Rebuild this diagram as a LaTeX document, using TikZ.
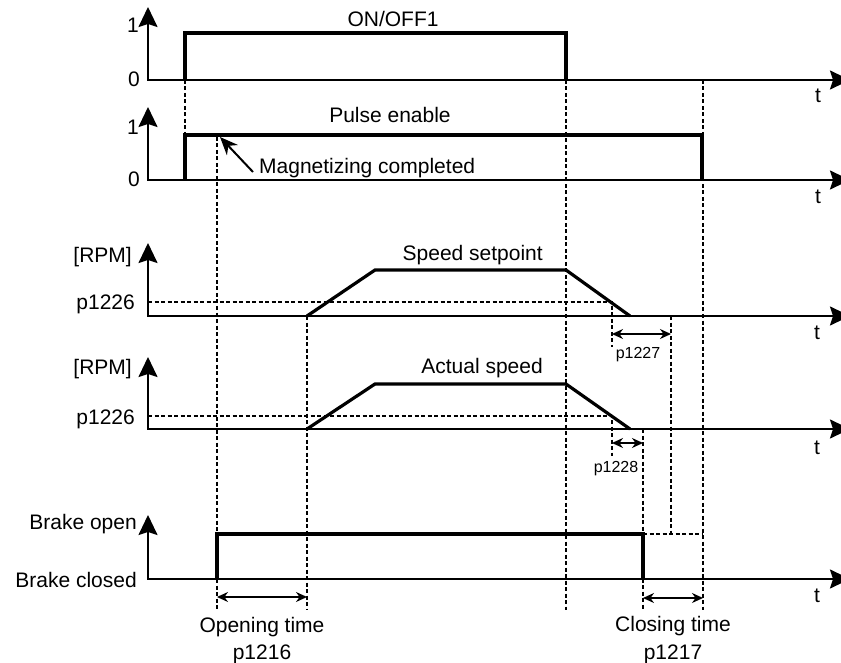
\documentclass[tikz,border=0pt]{standalone}
\usepackage{fontspec}
\setmainfont{Liberation Sans}
\usetikzlibrary{arrows.meta}
\begin{document}
\begin{tikzpicture}[x=1pt,y=-1pt,
  axis/.style={line width=2pt, line join=miter,
    {Stealth[length=20pt,width=19pt,inset=3pt]}-{Stealth[length=20pt,width=19pt,inset=3pt]}},
  sig/.style={line width=3.2pt, line join=miter},
  dsh/.style={line width=2.4pt, dash pattern=on 4pt off 2.5pt},
  dim/.style={line width=1.5pt, {Stealth[length=11pt,width=10pt]}-{Stealth[length=11pt,width=10pt]}},
  lbl/.style={inner sep=0pt, text height=15pt, text depth=0pt, font=\fontsize{21}{25}\selectfont},
  sml/.style={inner sep=0pt, text height=11.5pt, text depth=0pt, font=\fontsize{16}{19}\selectfont}]
\useasboundingbox (0,0) rectangle (841,663);
\clip (0,0) rectangle (841,663);

% key coordinates
\coordinate (a1) at (148,80);  \coordinate (a2) at (148,180);
\coordinate (a3) at (148,316); \coordinate (a4) at (148,429);
\coordinate (a5) at (148,579);

% axes
\draw[axis] (148,7)   -- (a1) -- (850,80);
\draw[axis] (148,107) -- (a2) -- (850,180);
\draw[axis] (148,243) -- (a3) -- (850,316);
\draw[axis] (148,357) -- (a4) -- (850,429);
\draw[axis] (148,515) -- (a5) -- (850,579);

% dashed guide lines
\draw[dsh] (185,80) -- (185,135);
\draw[dsh] (217,137) -- (217,610);
\draw[dsh] (307,316) -- (307,610);
\draw[dsh] (566,80) -- (566,610);
\draw[dsh] (703,80) -- (703,610);
\draw[dsh] (148,302) -- (612,302) -- (612,347);
\draw[dsh] (148,416) -- (612,416) -- (612,456);
\draw[dsh] (671,316) -- (671,534);
\draw[dsh] (643,534) -- (703,534);
\draw[dsh] (643,429) -- (643,610);

% signals
\draw[sig] (185,80) -- (185,33) -- (566,33) -- (566,80);
\draw[sig] (185,180) -- (185,135) -- (702,135) -- (702,180);
\draw[sig] (307,316) -- (375,270) -- (566,270) -- (630,316);
\draw[sig] (307,429) -- (375,384) -- (566,384) -- (630,429);
\draw[sig] (217,579) -- (217,534) -- (643,534) -- (643,579);

% magnetizing arrow
\coordinate (magtip) at (220,137);
\node[lbl, anchor=west] (mag) at (259,166) {Magnetizing completed};
\draw[line width=2pt, -{Stealth[length=18pt,width=15pt]}] (253,172) -- (magtip);

% dimension arrows
\coordinate (d1a) at (612,334); \coordinate (d1b) at (671,334);
\coordinate (d2a) at (612,443); \coordinate (d2b) at (643,443);
\coordinate (d3a) at (217,597); \coordinate (d3b) at (307,597);
\coordinate (d4a) at (643,598); \coordinate (d4b) at (703,598);
\draw[dim] (d1a) -- (d1b);
\draw[dim] (d2a) -- (d2b);
\draw[dim] (d3a) -- (d3b);
\draw[dim] (d4a) -- (d4b);
\node[sml] (p1227) at (638,353) {p1227};
\node[sml] (p1228) at (616,467) {p1228};

% titles
\node[lbl] (t1) at (393,19) {ON/OFF1};
\node[lbl] (t2) at (390,115) {Pulse enable};
\node[lbl, anchor=east] (t3) at (543,253) {Speed setpoint};
\node[lbl, anchor=east] (t4) at (543,366) {Actual speed};

% bottom labels
\node[lbl] (open1) at (262,625) {Opening time};
\node[lbl] (open2) at (262,652) {p1216};
\node[lbl] (close1) at (673,624) {Closing time};
\node[lbl] (close2) at (673,652) {p1217};

% t labels
\node[lbl] (tt1) at (818,95) {t};
\node[lbl] (tt2) at (818,196) {t};
\node[lbl] (tt3) at (817,332) {t};
\node[lbl] (tt4) at (817,447) {t};
\node[lbl] (tt5) at (817,595) {t};

% left labels
\node[lbl, anchor=east] (l1) at (139,25) {1};
\node[lbl, anchor=east] (l0) at (140,79) {0};
\node[lbl, anchor=east] (m1) at (139,127) {1};
\node[lbl, anchor=east] (m0) at (140,179) {0};
\node[lbl, anchor=east] (r1) at (132,255) {[RPM]};
\node[lbl, anchor=east] (r2) at (135,302) {p1226};
\node[lbl, anchor=east] (r3) at (132,367) {[RPM]};
\node[lbl, anchor=east] (r4) at (135,417) {p1226};
\node[lbl, anchor=east] (b1) at (137,522) {Brake open};
\node[lbl, anchor=east] (b2) at (137,580) {Brake closed};
\end{tikzpicture}
\end{document}
